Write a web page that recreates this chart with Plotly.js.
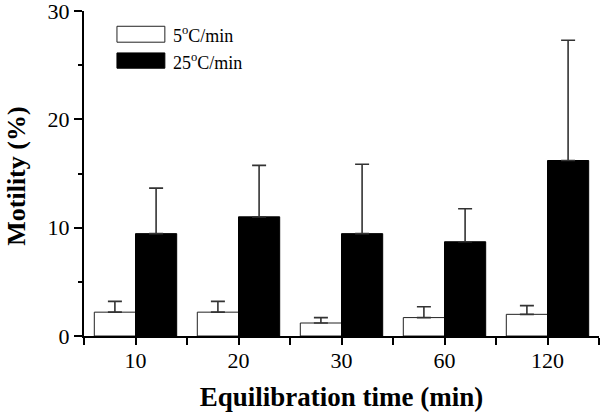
<!DOCTYPE html>
<html>
<head>
<meta charset="utf-8">
<script src="https://cdn.plot.ly/plotly-3.0.1.min.js"></script>
<style>html,body{margin:0;padding:0;background:#fff;}#chart{width:600px;height:412px;}</style>
</head>
<body>
<div id="chart"></div>
<script>
const categories = ['10', '20', '30', '60', '120'];
const seriesNames = ['5<sup>o</sup>C/min', '25<sup>o</sup>C/min'];
const slowValues = [2.2, 2.2, 1.2, 1.7, 2.0];
const slowErrors = [1.0, 1.0, 0.5, 1.0, 0.8];
const fastValues = [9.45, 11.0, 9.45, 8.7, 16.2];
const fastErrors = [4.2, 4.75, 6.4, 3.05, 11.1];
const yTicks = [0, 10, 20, 30];
const yTitle = '<b>Motility (%)</b>';
const xTitle = '<b>Equilibration time (min)</b>';

const xIdx = categories.map((_, i) => i);

const font = 'Liberation Serif, Times New Roman, serif';
const errStyle = (arr) => ({type: 'data', symmetric: false, array: arr, arrayminus: arr.map(() => 0), color: '#333', thickness: 1.6, width: 7});

const traces = [
  {type: 'bar', x: xIdx, y: slowValues, name: seriesNames[0], marker: {color: '#fff', line: {color: '#222', width: 1}}, error_y: errStyle(slowErrors)},
  {type: 'bar', x: xIdx, y: fastValues, name: seriesNames[1], marker: {color: '#000', line: {color: '#000', width: 1}}, error_y: errStyle(fastErrors)}
];

const layout = {
  width: 600, height: 412,
  margin: {l: 84, r: 1, t: 11, b: 76},
  paper_bgcolor: '#fff', plot_bgcolor: '#fff',
  barmode: 'group', bargap: 0.2, bargroupgap: 0,
  showlegend: false,
  font: {family: font, color: '#000', size: 18},
  xaxis: {
    range: [-0.5, categories.length - 0.5],
    tickmode: 'array', tickvals: xIdx, ticktext: categories,
    ticks: 'outside', ticklen: 7, tickwidth: 2, tickcolor: '#000',
    minor: {tick0: 0.5, dtick: 1, ticks: 'outside', ticklen: 7, tickwidth: 2, tickcolor: '#000', showgrid: false},
    showline: true, linewidth: 2, linecolor: '#000', showgrid: false, zeroline: false,
    ticklabeloverflow: 'allow', ticklabelstandoff: -3,
    tickfont: {family: font, size: 22, color: '#000'},
    title: {text: xTitle, font: {family: font, size: 27, color: '#000'}, standoff: 18}
  },
  yaxis: {
    range: [0, 30],
    tickmode: 'array', tickvals: yTicks,
    ticks: 'outside', ticklen: 8, tickwidth: 2, tickcolor: '#000',
    minor: {dtick: 5, ticks: 'outside', ticklen: 4, tickwidth: 2, tickcolor: '#000', showgrid: false},
    showline: true, linewidth: 2, linecolor: '#000', showgrid: false, zeroline: false,
    ticklabeloverflow: 'allow',
    tickfont: {family: font, size: 22, color: '#000'}
  },
  shapes: [
    {type: 'rect', xref: 'paper', yref: 'paper', x0: 0.064, x1: 0.157, y0: 0.904, y1: 0.953, fillcolor: '#fff', line: {color: '#222', width: 1}},
    {type: 'rect', xref: 'paper', yref: 'paper', x0: 0.064, x1: 0.157, y0: 0.824, y1: 0.871, fillcolor: '#000', line: {color: '#000', width: 1}}
  ],
  annotations: [
    {xref: 'paper', yref: 'paper', x: 0, xshift: -67, y: 0.49, xanchor: 'center', yanchor: 'middle', textangle: -90, text: yTitle, showarrow: false, font: {family: font, size: 26, color: '#000'}},
    {xref: 'paper', yref: 'paper', x: 0.169, y: 0.929, xanchor: 'left', yanchor: 'middle', text: seriesNames[0], showarrow: false, font: {family: font, size: 18, color: '#000'}},
    {xref: 'paper', yref: 'paper', x: 0.169, y: 0.845, xanchor: 'left', yanchor: 'middle', text: seriesNames[1], showarrow: false, font: {family: font, size: 18, color: '#000'}}
  ]
};

Plotly.newPlot('chart', traces, layout, {displayModeBar: false, staticPlot: true});
</script>
</body>
</html>
